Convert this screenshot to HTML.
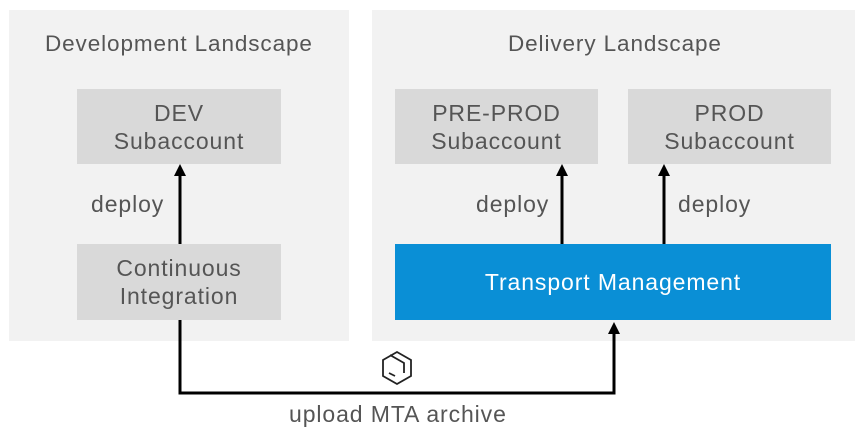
<!DOCTYPE html>
<html><head><style>
body{margin:0;width:863px;height:438px;background:#fff;position:relative;overflow:hidden;font-family:"Liberation Sans",sans-serif;color:#555;letter-spacing:0.9px}
.p{position:absolute;background:#f2f2f2}
.b{position:absolute;background:#d9d9d9;display:flex;align-items:center;justify-content:center;text-align:center;font-size:23px;line-height:28px;color:#555}
.t{position:absolute;font-size:23px;white-space:nowrap}
</style></head><body>
<div class="p" style="left:9px;top:10px;width:340px;height:331px"></div>
<div class="p" style="left:372px;top:10px;width:483px;height:331px"></div>
<div class="t" style="left:45px;top:31px;font-size:22.5px">Development Landscape</div>
<div class="t" style="left:508px;top:31px;font-size:22.5px">Delivery Landscape</div>
<div class="b" style="left:77px;top:89px;width:204px;height:75px">DEV<br>Subaccount</div>
<div class="b" style="left:77px;top:244px;width:204px;height:76px">Continuous<br>Integration</div>
<div class="b" style="left:395px;top:89px;width:203px;height:75px">PRE-PROD<br>Subaccount</div>
<div class="b" style="left:628px;top:89px;width:203px;height:75px">PROD<br>Subaccount</div>
<div class="b" style="left:395px;top:244px;width:436px;height:76px;background:#0a8fd6;color:#fff">Transport Management</div>
<div class="t" style="left:91px;top:191px">deploy</div>
<div class="t" style="left:476px;top:191px">deploy</div>
<div class="t" style="left:678px;top:191px">deploy</div>
<div class="t" style="left:289px;top:401px">upload MTA archive</div>
<svg width="863" height="438" style="position:absolute;left:0;top:0">
<g stroke="#000" stroke-width="3" fill="none">
<path d="M180 244V172"/><path d="M562 244V172"/><path d="M664 244V172"/>
<path d="M180 320V393H614V330"/>
</g>
<g fill="#000">
<path d="M174 176L180 164L186 176Z"/><path d="M556 176L562 164L568 176Z"/><path d="M658 176L664 164L670 176Z"/><path d="M608 334L614 322L620 334Z"/>
</g>
<g stroke="#222" stroke-width="1.8" fill="none">
<path d="M397 352L411 360V376L397 384L383 376V360Z"/>
<path d="M390 355L404 363V373"/>
<path d="M389 373L395 376"/>
</g>
</svg>
</body></html>
